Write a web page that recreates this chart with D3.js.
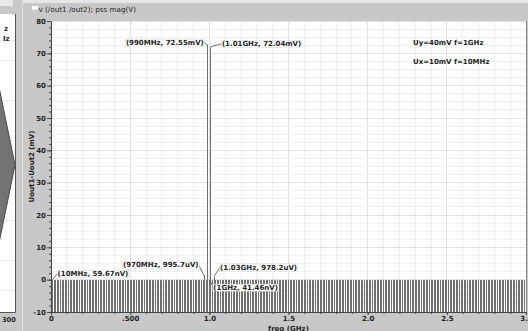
<!DOCTYPE html>
<html><head><meta charset="utf-8">
<script src="https://cdn.jsdelivr.net/npm/d3@7"></script>
<style>
html,body{margin:0;padding:0;background:#c8c8c8;}
svg{display:block;}
text{font-family:"DejaVu Sans",sans-serif;}
</style></head>
<body>
<svg id="c" width="528" height="331"></svg>
<script>
// ---- data ----
const title = "v (/out1 /out2); pss mag(V)";
const yLabel = "Uout1-Uout2 (mV)";
const xLabel = "freq (GHz)";
const xTickValues = [0, 0.5, 1.0, 1.5, 2.0, 2.5, 3.0];
const xTickLabels = ["0", ".500", "1.0", "1.5", "2.0", "2.5", "3.0"];
const yTickValues = [-10, 0, 10, 20, 30, 40, 50, 60, 70, 80];
const yTickLabels = ["-10", "0", "10", "20", "30", "40", "50", "60", "70", "80"];
// PSS harmonics: fundamental 10 MHz, shown up to 3 GHz
const harmonicStepMHz = 10;
const harmonicMaxMHz = 3000;
// marked harmonics (MHz) and their magnitudes (mV)
const markerFreqMHz = [10, 970, 990, 1000, 1010, 1030];
const markerValueMV = [59.67e-6, 0.9957, 72.55, 41.46e-6, 72.04, 0.9782];
const markerText = ["(10MHz, 59.67nV)", "(970MHz, 995.7uV)", "(990MHz, 72.55mV)",
                    "(1GHz, 41.46nV)", "(1.01GHz, 72.04mV)", "(1.03GHz, 978.2uV)"];
const notes = ["Uy=40mV f=1GHz", "Ux=10mV f=10MHz"];
// other harmonics are at ~0 mV on this scale
const otherHarmonicMV = 0;
// left (cropped) neighbouring transient panel: envelope of the oscillation
const leftTime = [290, 300];
const leftEnvelopeMV = [50, 0];

// ---- build ----
const svg = d3.select("#c");
const W = 528, H = 331;
const FS = 7;
const x = d3.scaleLinear().domain([0, 3.0]).range([51, 526]);
const y = d3.scaleLinear().domain([-10, 80]).range([312, 21]);

// top strip
svg.append("rect").attr("x",22).attr("y",0).attr("width",W-22).attr("height",3).attr("fill","#e6e6e6");
svg.append("rect").attr("x",0).attr("y",0).attr("width",13).attr("height",6).attr("fill","#e8e8e8");
svg.append("line").attr("x1",22.5).attr("x2",22.5).attr("y1",0).attr("y2",H).attr("stroke","#e0e0e0");

// ---- left panel ----
const lx = d3.scaleLinear().domain(leftTime).range([-2, 15]);
const ly = d3.scaleLinear().domain([-50, 50]).range([248, 82]);
svg.append("rect").attr("x",0).attr("y",14).attr("width",15).attr("height",298).attr("fill","#fff");
[40, 60, 100, 140, 180, 220, 260, 290].forEach(v=>{
  svg.append("line").attr("x1",0).attr("x2",15).attr("y1",v+0.5).attr("y2",v+0.5).attr("stroke","#ececec");
});
const env = leftTime.map((t,i)=>[lx(t), ly(leftEnvelopeMV[i])]).concat(
  leftTime.slice().reverse().map((t,i)=>[lx(t), ly(-leftEnvelopeMV[leftEnvelopeMV.length-1-i])]));
svg.append("path").attr("d", d3.line()(env)+"Z").attr("fill","#737373").attr("stroke","#4a4a4a");
svg.append("line").attr("x1",15.5).attr("x2",15.5).attr("y1",14).attr("y2",312.5).attr("stroke","#555");
svg.append("line").attr("x1",0).attr("x2",15.5).attr("y1",312.5).attr("y2",312.5).attr("stroke","#555");
svg.append("text").attr("x",4).attr("y",31).attr("font-size",FS).attr("font-weight","bold").attr("fill","#222").text("z");
svg.append("text").attr("x",3).attr("y",41).attr("font-size",FS).attr("font-weight","bold").attr("fill","#222").text("Iz");
svg.append("text").attr("x",2).attr("y",322).attr("font-size",6.6).attr("font-weight","bold").attr("fill","#222").text("300");

// ---- main panel header ----
svg.append("rect").attr("x",32).attr("y",6).attr("width",6).attr("height",3.5).attr("fill","#fff");
svg.append("text").attr("x",38.5).attr("y",11.5).attr("font-size",7.2).attr("fill","#222").text(title);

// plot area
svg.append("rect").attr("x",x(0)).attr("y",y(80)).attr("width",x(3.0)-x(0)).attr("height",y(-10)-y(80)).attr("fill","#fff");

// grid
const g = svg.append("g").attr("shape-rendering","crispEdges");
d3.range(0, 3.01, 0.1).forEach(v=>{
  g.append("line").attr("x1",x(v)).attr("x2",x(v)).attr("y1",y(80)).attr("y2",y(-10))
   .attr("stroke", Math.abs(v*2-Math.round(v*2))<1e-6 ? "#e2e2e2" : "#efefef");
});
d3.range(-10, 80.01, 2.5).forEach(v=>{
  g.append("line").attr("x1",x(0)).attr("x2",x(3.0)).attr("y1",y(v)).attr("y2",y(v))
   .attr("stroke", v%10===0 ? "#e2e2e2" : "#f1f1f1");
});

// harmonic bars
const harmonicsMHz = d3.range(harmonicStepMHz, harmonicMaxMHz + 1, harmonicStepMHz);
const valueOf = f => { const i = markerFreqMHz.indexOf(f); return i>=0 ? markerValueMV[i] : otherHarmonicMV; };
g.selectAll(".bar").data(harmonicsMHz).enter().append("line")
  .attr("x1", d=>x(d/1000)).attr("x2", d=>x(d/1000))
  .attr("y1", y(-10)).attr("y2", d=>y(valueOf(d)))
  .attr("stroke","#707070").attr("stroke-width",1);

// axes
const xAxis = svg.append("g").attr("transform",`translate(0,${y(-10)})`)
  .call(d3.axisBottom(x).tickValues(xTickValues).tickFormat((d,i)=>xTickLabels[i]).tickSize(3).tickPadding(1.5));
const xMinor = svg.append("g").attr("transform",`translate(0,${y(-10)})`)
  .call(d3.axisBottom(x).tickValues(d3.range(0,3.01,0.1)).tickFormat("").tickSize(2));
const yAxis = svg.append("g").attr("transform",`translate(${x(0)},0)`)
  .call(d3.axisLeft(y).tickValues(yTickValues).tickFormat((d,i)=>yTickLabels[i]).tickSize(4).tickPadding(1));
const yMinor = svg.append("g").attr("transform",`translate(${x(0)},0)`)
  .call(d3.axisLeft(y).tickValues(d3.range(-10,80.01,2)).tickFormat("").tickSize(2));
[xAxis,xMinor,yAxis,yMinor].forEach(a=>{
  a.selectAll("path").attr("stroke","#444");
  a.selectAll("line").attr("stroke","#444");
  a.selectAll("text").attr("font-family","DejaVu Sans").attr("font-size",FS).attr("font-weight","bold").attr("fill","#222");
});
xMinor.select("path").remove(); yMinor.select("path").remove();
// right border
svg.append("line").attr("x1",x(3.0)+0.5).attr("x2",x(3.0)+0.5).attr("y1",y(80)).attr("y2",y(-10)).attr("stroke","#888");

svg.append("text").attr("x",(x(0)+x(3.0))/2).attr("y",331).attr("text-anchor","middle")
  .attr("font-size",FS).attr("font-weight","bold").attr("fill","#222").text(xLabel);
svg.append("text").attr("transform",`translate(33.5,${(y(80)+y(-10))/2}) rotate(-90)`).attr("text-anchor","middle")
  .attr("font-size",FS).attr("font-weight","bold").attr("fill","#222").text(yLabel);

// markers: label offsets (px) relative to marker point
const labelPos = [
  {dx:5, dy:-4, anchor:"start"},
  {dx:-6, dy:-9, anchor:"end"},
  {dx:-4, dy:-0.5, anchor:"end"},
  {dx:4, dy:10, anchor:"start"},
  {dx:11, dy:-0.5, anchor:"start"},
  {dx:6, dy:-7, anchor:"start"}
];
const mk = svg.append("g");
markerFreqMHz.forEach((f,i)=>{
  const px = x(f/1000), py = y(markerValueMV[i]);
  const p = labelPos[i];
  const tx = px + p.dx, ty = py + p.dy;
  mk.append("line").attr("x1",px).attr("y1",py).attr("x2",tx).attr("y2",ty-2.5)
    .attr("stroke","#333").attr("stroke-width",0.7);
  const t = mk.append("text").attr("x",tx).attr("y",ty).attr("text-anchor",p.anchor)
    .attr("font-size",FS).attr("font-weight","bold").attr("fill","#222").text(markerText[i]);
  const b = t.node().getBBox();
  mk.insert("rect", () => t.node()).attr("x",b.x-0.5).attr("y",b.y+0.5).attr("width",b.width+1).attr("height",b.height-1)
    .attr("fill","#fff").attr("stroke","#d4d4d4").attr("stroke-width",0.5);
});
notes.forEach((t,i)=>{
  svg.append("text").attr("x",413).attr("y",45+i*19).attr("font-size",FS).attr("font-weight","bold").attr("fill","#222").text(t);
});
</script>
</body></html>
